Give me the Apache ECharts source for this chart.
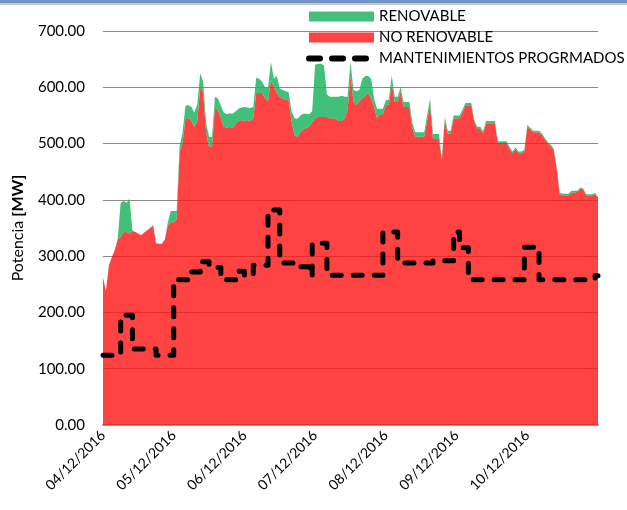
<!DOCTYPE html>
<html>
<head>
<meta charset="utf-8">
<script src="https://cdn.jsdelivr.net/npm/echarts@6/dist/echarts.min.js"></script>
<style>html,body{margin:0;padding:0;background:#fff}#c{width:627px;height:510px}</style>
</head>
<body>
<div id="c"></div>
<script>
// Day labels shown on the x axis (data is hourly, 7 days + closing point)
var days = ['04/12/2016','05/12/2016','06/12/2016','07/12/2016','08/12/2016','09/12/2016','10/12/2016','11/12/2016'];

// NO RENOVABLE (MW), hourly
var noRenovable = [
 262,238,284,298,311,329,335,343,343,340,345,343,340,337,342,346,350,355,323,322,322,330,355,360,
 360,365,485,500,545,545,540,530,540,600,590,520,494,495,563,560,545,530,528,530,528,535,540,542,
 540,542,540,545,590,590,590,580,575,613,600,590,583,580,578,577,540,515,512,520,525,528,530,538,
 545,547,547,547,547,545,545,543,540,540,545,560,620,575,568,575,580,585,590,580,565,545,552,552,
 568,570,607,574,574,592,565,565,565,527,512,512,512,512,540,568,508,508,508,470,542,518,518,545,
 545,545,555,568,568,568,538,526,526,518,536,536,536,536,501,501,501,501,490,483,490,483,483,486,
 529,525,520,520,520,515,507,500,495,488,455,410,408,408,408,413,413,414,420,418,408,408,408,410,405
];

// RENOVABLE (MW), hourly, stacked on top
var renovable = [
 0,0,0,0,0,3,60,55,52,62,0,0,0,0,0,0,0,0,0,0,0,0,5,20,
 20,15,10,20,22,23,25,25,30,25,20,16,18,17,20,20,22,25,24,24,25,22,22,22,
 25,22,23,20,27,25,20,20,25,32,15,30,15,15,15,14,18,30,32,30,28,25,22,20,
 95,95,95,92,40,38,38,40,43,45,38,23,25,20,25,20,35,35,30,35,15,17,10,10,
 9,8,14,9,9,8,9,9,9,9,8,8,8,8,10,12,9,9,9,5,5,5,5,5,
 5,5,5,4,4,4,4,4,4,4,4,4,4,4,3,3,3,3,4,3,3,3,3,3,
 4,3,3,3,3,3,3,3,3,3,3,3,3,3,3,3,3,2,2,2,2,2,2,2,2
];

// MANTENIMIENTOS PROGRMADOS (MW), hourly step values
var mantenimientos = [
 124,124,124,124,124,124,195,195,195,195,135,135,135,135,135,135,135,135,124,124,124,124,124,124,
 258,258,258,258,258,258,272,272,272,290,290,290,280,280,280,280,258,258,258,258,258,258,273,273,
 265,265,265,284,284,284,284,284,382,382,382,382,288,288,288,288,288,281,281,281,281,281,265,323,
 323,323,323,323,266,266,266,266,266,266,266,266,266,266,266,266,266,266,266,266,266,266,266,343,
 343,343,343,343,288,288,288,288,288,288,288,288,288,288,288,288,292,292,292,292,292,292,292,343,
 343,315,315,315,258,258,258,258,258,258,258,258,258,258,258,258,258,258,258,258,258,258,258,316,
 316,316,316,316,258,258,258,258,258,258,258,258,258,258,258,258,258,258,258,258,258,258,258,265,265
];

var yTicks = [0,100,200,300,400,500,600,700];

// hourly category labels
var categories = [];
for (var d = 0; d < 7; d++) {
  for (var h = 0; h < 24; h++) categories.push(days[d] + ' ' + (h < 10 ? '0' : '') + h + ':00');
}
categories.push(days[7] + ' 00:00');

var FONT = 'Lato';
var chart = echarts.init(document.getElementById('c'), null, {renderer: 'canvas'});
chart.setOption({
  animation: false,
  backgroundColor: '#ffffff',
  graphic: [
    {type: 'rect', left: 0, top: 0, shape: {width: 627, height: 3}, style: {fill: '#7092C4'}, z: 100},
    {type: 'rect', left: 0, top: 3, shape: {width: 627, height: 2}, style: {fill: '#C8C8C8'}, z: 100}
  ],
  grid: {left: 103, right: 29, top: 31, bottom: 85, containLabel: false},
  legend: {
    orient: 'vertical',
    left: 306,
    top: 9,
    padding: 0,
    itemWidth: 65,
    itemHeight: 10,
    itemGap: 6,
    textStyle: {fontFamily: FONT, fontSize: 15, color: '#000'},
    data: [
      {name: 'RENOVABLE', icon: 'rect'},
      {name: 'NO RENOVABLE', icon: 'rect'},
      {name: 'MANTENIMIENTOS PROGRMADOS', itemStyle: {opacity: 0},
       lineStyle: {color: '#000', width: 6, type: [11, 12], cap: 'round'}}
    ]
  },
  xAxis: {
    type: 'category',
    data: categories,
    boundaryGap: false,
    axisLine: {show: true, lineStyle: {color: '#999', width: 2}},
    axisTick: {show: false},
    splitLine: {show: false},
    axisLabel: {
      rotate: 45,
      interval: function (i) { return i % 24 === 0 && i < 168; },
      formatter: function (v) { return v.split(' ')[0]; },
      fontFamily: FONT, fontSize: 14, color: '#000', margin: 8
    }
  },
  yAxis: {
    type: 'value',
    min: yTicks[0],
    max: yTicks[yTicks.length - 1],
    interval: 100,
    axisLine: {show: false},
    axisTick: {show: false},
    splitLine: {show: true, lineStyle: {color: '#8a8a8a', width: 1}},
    axisLabel: {
      formatter: function (v) { return v.toFixed(2); },
      fontFamily: FONT, fontSize: 15, color: '#000', margin: 18
    },
    name: '{n|Potencia }{b|[MW]}',
    nameLocation: 'middle',
    nameGap: 77,
    nameRotate: 90,
    nameTextStyle: {
      rich: {
        n: {fontFamily: FONT, fontSize: 16, color: '#000'},
        b: {fontFamily: FONT, fontSize: 16, color: '#000', fontWeight: 'bold'}
      }
    }
  },
  series: [
    {
      name: 'NO RENOVABLE',
      type: 'line',
      stack: 'total',
      data: noRenovable,
      showSymbol: false,
      symbol: 'none',
      lineStyle: {width: 0},
      itemStyle: {color: '#FF4343'},
      areaStyle: {color: '#FF1414', opacity: 0.8},
      z: 2
    },
    {
      name: 'RENOVABLE',
      type: 'line',
      stack: 'total',
      data: renovable,
      showSymbol: false,
      symbol: 'none',
      lineStyle: {width: 0},
      itemStyle: {color: '#40C07A'},
      areaStyle: {color: '#1EB560', opacity: 0.85},
      z: 2
    },
    {
      name: 'MANTENIMIENTOS PROGRMADOS',
      type: 'line',
      step: 'end',
      data: mantenimientos,
      showSymbol: false,
      symbol: 'none',
      itemStyle: {color: '#000'},
      lineStyle: {color: '#000', width: 5, type: [9, 12], cap: 'round', join: 'round'},
      z: 5
    }
  ]
});
</script>
</body>
</html>
